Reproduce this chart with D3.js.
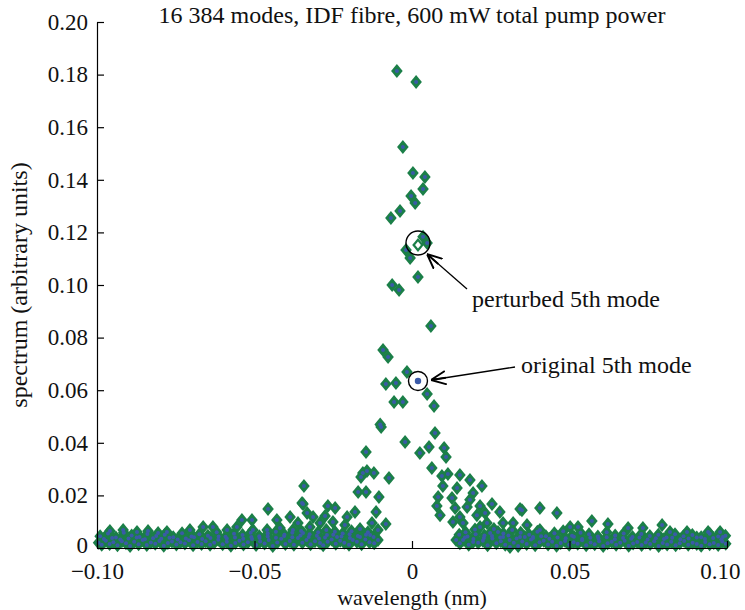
<!DOCTYPE html>
<html><head><meta charset="utf-8">
<script src="https://cdn.jsdelivr.net/npm/d3@7"></script>
<style>body{margin:0;background:#fff}svg{display:block}text{font-family:"Liberation Serif","Times New Roman",serif;fill:#111}</style>
</head><body><svg id="c" width="745" height="610"></svg>
<script>
const title = "16 384 modes, IDF fibre, 600 mW total pump power";
const xLabel = "wavelength (nm)";
const yLabel = "spectrum (arbitrary units)";
const xTicks = [-0.10, -0.05, 0, 0.05, 0.10];
const yTicks = [0, 0.02, 0.04, 0.06, 0.08, 0.10, 0.12, 0.14, 0.16, 0.18, 0.20];

// central peak points [wavelength, spectrum]
const peakPoints = [
[-0.0048,0.1814],[0.0013,0.1772],[-0.0029,0.1525],[0.0003,0.1426],[0.0041,0.1411],[0.0035,0.1365],
[-0.0003,0.1338],[0.0010,0.1312],[-0.0038,0.1281],[-0.0067,0.1255],[0.0035,0.1183],[0.0048,0.1160],
[-0.0019,0.1133],[-0.0006,0.1103],[0.0019,0.1030],[-0.0063,0.1000],[-0.0041,0.0981],[0.0060,0.0844],
[-0.0092,0.0753],[-0.0076,0.0726],[-0.0016,0.0669],[-0.0083,0.0624],[-0.0051,0.0627],[0.0048,0.0586],
[-0.0057,0.0555],[-0.0029,0.0555],[0.0070,0.0540],[-0.0098,0.0460],[-0.0101,0.0470],[0.0073,0.0437],
[-0.0022,0.0403],[-0.0146,0.0365],[0.0025,0.0361],[0.0054,0.0384],[0.0102,0.0380],[0.0108,0.0346],
[0.0063,0.0304]
];
// shoulder points
const shoulderPoints = [
[-0.0156,0.0285],[-0.0143,0.0293],[-0.0121,0.0285],[-0.0073,0.0266],[-0.0162,0.0270],[0.0095,0.0274],
[0.0114,0.0281],[0.0152,0.0278],[0.0184,0.0259],[-0.0343,0.0236],[-0.0171,0.0213],[-0.0146,0.0213],
[0.0098,0.0236],[0.0143,0.0228],[0.0222,0.0236],[-0.0105,0.0194],[0.0083,0.0194],[0.0127,0.0190],
[0.0194,0.0209],[0.0184,0.0183],[-0.0346,0.0167],[0.0079,0.0160],[0.0137,0.0152],[0.0175,0.0156],
[0.0216,0.0160],[0.0254,0.0167],[-0.0267,0.0160],[-0.0244,0.0152],[-0.0114,0.0137],[-0.0333,0.0133],
[-0.0314,0.0118],[-0.0276,0.0122],[-0.0206,0.0118],[-0.0181,0.0137],[0.0089,0.0125],[0.0152,0.0118],
[0.0232,0.0133],[0.0279,0.0137],[0.0343,0.0148],[0.0406,0.0152],[-0.0083,0.0091],[-0.0127,0.0095],
[-0.0213,0.0087],[-0.0251,0.0099],[-0.0292,0.0095],[-0.0324,0.0080],[-0.0346,0.0057],[-0.0108,0.0068],
[-0.0133,0.0049],[-0.0165,0.0042],[-0.0197,0.0038],[-0.0238,0.0042],[-0.0270,0.0049],[-0.0292,0.0019],
[0.0130,0.0099],[0.0162,0.0095],[0.0216,0.0080],[0.0162,0.0030],[0.0194,0.0023],[0.0248,0.0057],
[0.0289,0.0042],[0.0311,0.0004],[0.0343,0.0042],[0.0384,0.0042],[0.0406,0.0068],[0.0365,0.0087],
[0.0321,0.0095],[0.0289,0.0095],[0.0273,0.0061],[0.0238,0.0095],[0.0206,0.0125],
[-0.0349,0.0171],[-0.0457,0.0148],[-0.0540,0.0106],[-0.0508,0.0106],[-0.0429,0.0106],[-0.0387,0.0118],
[-0.0362,0.0095],[-0.0959,0.0065],[-0.0917,0.0068],[-0.0873,0.0061],[-0.0838,0.0065],[-0.0806,0.0057],
[-0.0778,0.0061],[-0.0705,0.0068],[-0.0663,0.0080],[-0.0632,0.0080],[-0.0587,0.0068],[-0.0556,0.0080],
[-0.0505,0.0068],[-0.0460,0.0068],[-0.0419,0.0076],[-0.0378,0.0068],
[0.0460,0.0133],[0.0571,0.0103],[0.0349,0.0144],[0.0622,0.0091],[0.0794,0.0087],[0.0733,0.0076],
[0.0686,0.0076],[0.0527,0.0080],[0.0502,0.0080],[0.0819,0.0061],[0.0873,0.0061],[0.0940,0.0061],
[0.0978,0.0061],[0.0987,0.0042]
];
// dense low band, left
const leftBase = [
[-0.0995,0.0020],[-0.0985,0.0012],[-0.0972,0.0028],[-0.0960,0.0015],[-0.0948,0.0022],[-0.0935,0.0010],
[-0.0921,0.0026],[-0.0908,0.0018],[-0.0895,0.0008],[-0.0882,0.0024],[-0.0868,0.0014],[-0.0855,0.0030],
[-0.0842,0.0011],[-0.0829,0.0021],[-0.0815,0.0016],[-0.0802,0.0027],[-0.0788,0.0009],[-0.0775,0.0019],
[-0.0762,0.0025],[-0.0748,0.0013],[-0.0735,0.0022],[-0.0721,0.0017],[-0.0708,0.0029],[-0.0695,0.0010],
[-0.0681,0.0023],[-0.0668,0.0015],[-0.0655,0.0026],[-0.0641,0.0012],[-0.0628,0.0020],[-0.0615,0.0031],
[-0.0601,0.0014],[-0.0588,0.0024],[-0.0575,0.0009],[-0.0561,0.0019],[-0.0548,0.0028],[-0.0535,0.0013],
[-0.0521,0.0022],[-0.0508,0.0034],[-0.0495,0.0011],[-0.0482,0.0025],[-0.0468,0.0017],[-0.0455,0.0030],
[-0.0442,0.0008],[-0.0428,0.0021],[-0.0415,0.0035],[-0.0402,0.0015],[-0.0388,0.0027],[-0.0375,0.0012],
[-0.0362,0.0038],[-0.0348,0.0020],[-0.0335,0.0030],[-0.0322,0.0014],[-0.0308,0.0026],[-0.0295,0.0036],
[-0.0282,0.0010],[-0.0268,0.0024],[-0.0255,0.0032],[-0.0242,0.0016],[-0.0228,0.0028],[-0.0215,0.0020],
[-0.0200,0.0012],[-0.0188,0.0030],[-0.0175,0.0024],[-0.0160,0.0014],[-0.0148,0.0032],[-0.0135,0.0022],
[-0.0120,0.0018],[-0.0108,0.0030],
[-0.0990,0.0045],[-0.0965,0.0055],[-0.0940,0.0040],[-0.0915,0.0058],[-0.0890,0.0048],[-0.0865,0.0042],
[-0.0840,0.0053],[-0.0812,0.0046],[-0.0785,0.0050],[-0.0758,0.0041],[-0.0730,0.0056],[-0.0700,0.0044],
[-0.0675,0.0052],[-0.0648,0.0047],[-0.0620,0.0060],[-0.0592,0.0043],[-0.0565,0.0054],[-0.0538,0.0049],
[-0.0512,0.0058],[-0.0485,0.0045],[-0.0458,0.0055],[-0.0432,0.0062],[-0.0405,0.0050],[-0.0380,0.0058],
[-0.0352,0.0065],[-0.0325,0.0052],[-0.0298,0.0060],[-0.0272,0.0068],[-0.0245,0.0062],[-0.0220,0.0055],
[-0.0192,0.0064],[-0.0165,0.0072],[-0.0140,0.0060],
[-0.0978,0.0034],[-0.0952,0.0038],[-0.0926,0.0032],[-0.0900,0.0036],[-0.0874,0.0040],[-0.0848,0.0033],
[-0.0822,0.0037],[-0.0796,0.0035],[-0.0770,0.0039],[-0.0744,0.0032],[-0.0718,0.0036],[-0.0692,0.0041],
[-0.0666,0.0034],[-0.0640,0.0038],[-0.0614,0.0044],[-0.0588,0.0036],[-0.0562,0.0040],[-0.0536,0.0035],
[-0.0510,0.0042],[-0.0484,0.0038],[-0.0458,0.0044],[-0.0432,0.0039],[-0.0406,0.0046],[-0.0380,0.0041],
[-0.0354,0.0048],[-0.0328,0.0042],[-0.0302,0.0047],[-0.0276,0.0040],[-0.0250,0.0050],[-0.0224,0.0044],
[-0.0198,0.0052],[-0.0172,0.0046],[-0.0146,0.0050],[-0.0122,0.0042]
];
// dense low band, right
const rightBase = [
[0.0140,0.0030],[0.0152,0.0018],[0.0168,0.0040],[0.0180,0.0012],[0.0195,0.0034],[0.0210,0.0020],
[0.0225,0.0028],[0.0240,0.0010],[0.0255,0.0036],[0.0268,0.0018],[0.0282,0.0026],[0.0296,0.0012],
[0.0310,0.0030],[0.0323,0.0020],[0.0337,0.0008],[0.0350,0.0025],[0.0364,0.0015],[0.0378,0.0032],
[0.0391,0.0010],[0.0405,0.0022],[0.0418,0.0028],[0.0432,0.0013],[0.0445,0.0024],[0.0459,0.0009],
[0.0472,0.0019],[0.0486,0.0027],[0.0499,0.0012],[0.0513,0.0022],[0.0526,0.0016],[0.0540,0.0029],
[0.0553,0.0010],[0.0567,0.0021],[0.0580,0.0014],[0.0594,0.0026],[0.0607,0.0008],[0.0621,0.0018],
[0.0634,0.0024],[0.0648,0.0012],[0.0661,0.0020],[0.0675,0.0028],[0.0688,0.0009],[0.0702,0.0017],
[0.0715,0.0023],[0.0729,0.0011],[0.0742,0.0021],[0.0756,0.0015],[0.0769,0.0026],[0.0783,0.0008],
[0.0796,0.0019],[0.0810,0.0013],[0.0823,0.0024],[0.0837,0.0010],[0.0850,0.0018],[0.0864,0.0027],
[0.0877,0.0012],[0.0891,0.0020],[0.0904,0.0015],[0.0918,0.0009],[0.0931,0.0023],[0.0945,0.0014],
[0.0958,0.0019],[0.0972,0.0011],[0.0985,0.0025],[0.0996,0.0016],
[0.0170,0.0060],[0.0200,0.0070],[0.0230,0.0048],[0.0260,0.0072],[0.0290,0.0055],[0.0318,0.0068],
[0.0345,0.0058],[0.0372,0.0050],[0.0398,0.0062],[0.0425,0.0045],[0.0452,0.0056],[0.0480,0.0064],
[0.0508,0.0047],[0.0535,0.0058],[0.0562,0.0052],[0.0590,0.0044],[0.0618,0.0060],[0.0645,0.0048],
[0.0672,0.0055],[0.0700,0.0042],[0.0728,0.0053],[0.0755,0.0046],[0.0782,0.0050],[0.0808,0.0040],
[0.0835,0.0052],[0.0862,0.0045],[0.0890,0.0049],[0.0918,0.0041],[0.0945,0.0054],[0.0972,0.0044],
[0.0995,0.0047],
[0.0150,0.0050],[0.0176,0.0044],[0.0202,0.0052],[0.0228,0.0038],[0.0254,0.0046],[0.0280,0.0040],
[0.0306,0.0048],[0.0332,0.0036],[0.0358,0.0042],[0.0384,0.0038],[0.0410,0.0045],[0.0436,0.0035],
[0.0462,0.0040],[0.0488,0.0037],[0.0514,0.0043],[0.0540,0.0034],[0.0566,0.0039],[0.0592,0.0036],
[0.0618,0.0041],[0.0644,0.0033],[0.0670,0.0038],[0.0696,0.0035],[0.0722,0.0040],[0.0748,0.0032],
[0.0774,0.0037],[0.0800,0.0034],[0.0826,0.0039],[0.0852,0.0033],[0.0878,0.0036],[0.0904,0.0040],
[0.0930,0.0034],[0.0956,0.0038],[0.0982,0.0033]
];
const perturbed5th = [0.0019, 0.1152];
const original5th = [0.0019, 0.0635];
const annotations = ["perturbed 5th mode", "original 5th mode"];

const svg = d3.select("#c");
const L = 97, R = 727, T = 22, B = 548;
const x = d3.scaleLinear().domain([-0.1, 0.1]).range([L, R]);
const y = d3.scaleLinear().domain([0, 0.2]).range([B, T]);
const green = "#1b7f48", blue = "#3a5aa8";
const FS = 24, TFS = 23;

svg.append("defs").append("marker").attr("id","ah").attr("viewBox","0 0 10 10")
  .attr("refX",10).attr("refY",5).attr("markerWidth",15).attr("markerHeight",15)
  .attr("markerUnits","userSpaceOnUse").attr("orient","auto")
  .append("path").attr("d","M0,0.5 L10,5 L0,9.5 M10,5 L0,5").attr("fill","none").attr("stroke","#000").attr("stroke-width",1.3);

const all = leftBase.concat(rightBase, shoulderPoints, peakPoints);
const diamond = "M0,-7 L5.8,0 L0,7 L-5.8,0 Z";
const g = svg.append("g");
g.selectAll("path.d").data(all).join("path").attr("class","d")
  .attr("d", diamond).attr("transform", d => `translate(${x(d[0])},${y(d[1])})`)
  .attr("fill", green);
g.selectAll("circle.b").data(all).join("circle").attr("class","b")
  .attr("cx", d => x(d[0])).attr("cy", d => y(d[1])).attr("r", 2).attr("fill", blue);

// perturbed 5th mode (hollow diamond)
g.append("path").attr("d", diamond).attr("transform", `translate(${x(perturbed5th[0])},${y(perturbed5th[1])})`)
  .attr("fill", green);
g.append("path").attr("d", "M0,-3.5 L2.9,0 L0,3.5 L-2.9,0 Z").attr("transform", `translate(${x(perturbed5th[0])},${y(perturbed5th[1])})`)
  .attr("fill", "#fff");
// original 5th mode
g.append("circle").attr("cx", x(original5th[0])).attr("cy", y(original5th[1])).attr("r", 3.2).attr("fill", blue);

// annotation circles and arrows
svg.append("circle").attr("cx", x(perturbed5th[0])).attr("cy", y(perturbed5th[1]) - 2).attr("r", 12)
  .attr("fill","none").attr("stroke","#000").attr("stroke-width",1.4);
svg.append("circle").attr("cx", x(original5th[0])).attr("cy", y(original5th[1])).attr("r", 9.5)
  .attr("fill","none").attr("stroke","#000").attr("stroke-width",1.4);
svg.append("line").attr("x1",467).attr("y1",289).attr("x2",x(perturbed5th[0])+9).attr("y2",y(perturbed5th[1])+9)
  .attr("stroke","#000").attr("stroke-width",1.3).attr("marker-end","url(#ah)");
svg.append("line").attr("x1",515).attr("y1",367).attr("x2",x(original5th[0])+13).attr("y2",y(original5th[1])-1)
  .attr("stroke","#000").attr("stroke-width",1.3).attr("marker-end","url(#ah)");
svg.append("text").attr("x",472).attr("y",307).attr("font-size",FS).text(annotations[0]);
svg.append("text").attr("x",521).attr("y",373).attr("font-size",FS).text(annotations[1]);

// axes
const fmt = v => v === 0 ? "0" : (v < 0 ? "\u2212" : "") + Math.abs(v).toFixed(2);
const xa = svg.append("g").attr("transform", `translate(0,${B})`)
  .call(d3.axisBottom(x).tickValues(xTicks).tickSizeInner(-7).tickSizeOuter(0).tickPadding(15).tickFormat(fmt));
const ya = svg.append("g").attr("transform", `translate(${L},0)`)
  .call(d3.axisLeft(y).tickValues(yTicks).tickSizeInner(-7).tickSizeOuter(0).tickPadding(9).tickFormat(fmt));
[xa, ya].forEach(a => {
  a.selectAll("path.domain").attr("stroke","#000").attr("stroke-width",1.2);
  a.selectAll(".tick line").attr("stroke","#000").attr("stroke-width",1.2);
  a.selectAll("text").attr("font-family",'"Liberation Serif",serif').attr("font-size",TFS).attr("fill","#111");
});
// keep the last x tick label inside the page
xa.selectAll(".tick text").filter(d => d === 0.10).attr("text-anchor","end").attr("dx", 13);
// lift the y "0" label a touch so it clears the x tick labels
ya.selectAll(".tick text").filter(d => d === 0).attr("y", -3);

svg.append("text").attr("x",412).attr("y",605).attr("text-anchor","middle").attr("font-size",22).text(xLabel);
svg.append("text").attr("x",412).attr("y",23).attr("text-anchor","middle").attr("font-size",FS).text(title);
svg.append("text").attr("transform","translate(27,285) rotate(-90)").attr("text-anchor","middle").attr("font-size",FS).text(yLabel);
</script></body></html>
